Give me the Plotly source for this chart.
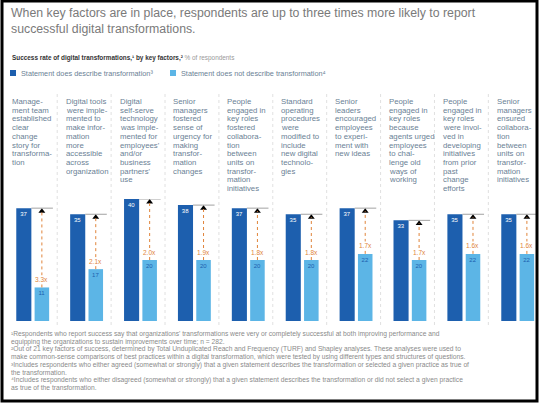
import plotly.graph_objects as go

# ---------------- data ----------------
factors = [
    "Manage-<br>ment team<br>established<br>clear<br>change<br>story for<br>transforma-<br>tion",
    "Digital tools<br>were imple-<br>mented to<br>make infor-<br>mation<br>more<br>accessible<br>across<br>organization",
    "Digital<br>self-serve<br>technology<br>was imple-<br>mented for<br>employees'<br>and/or<br>business<br>partners'<br>use",
    "Senior<br>managers<br>fostered<br>sense of<br>urgency for<br>making<br>transfor-<br>mation<br>changes",
    "People<br>engaged in<br>key roles<br>fostered<br>collabora-<br>tion<br>between<br>units on<br>transfor-<br>mation<br>initiatives",
    "Standard<br>operating<br>procedures<br>were<br>modified to<br>include<br>new digital<br>technolo-<br>gies",
    "Senior<br>leaders<br>encouraged<br>employees<br>to experi-<br>ment with<br>new ideas",
    "People<br>engaged in<br>key roles<br>because<br>agents urged<br>employees<br>to chal-<br>lenge old<br>ways of<br>working",
    "People<br>engaged in<br>key roles<br>were invol-<br>ved in<br>developing<br>initiatives<br>from prior<br>past<br>change<br>efforts",
    "Senior<br>managers<br>ensured<br>collabora-<br>tion<br>between<br>units on<br>transfor-<br>mation<br>initiatives",
]
describes = [37, 35, 40, 38, 37, 35, 37, 33, 35, 35]
not_describes = [11, 17, 20, 20, 20, 20, 22, 20, 22, 22]
multipliers = ["3.3x", "2.1x", "2.0x", "1.9x", "1.8x", "1.8x", "1.7x", "1.7x", "1.6x", "1.6x"]

title_text = ("When key factors are in place, respondents are up to three times more likely to report<br>"
              "successful digital transformations.")
subtitle_bold = "Success rate of digital transformations,¹ by key factors,²"
subtitle_rest = " % of respondents"
legend_labels = ["Statement does describe transformation³", "Statement does not describe transformation⁴"]
footnotes = [
    "¹Respondents who report success say that organizations' transformations were very or completely successful at both improving performance and",
    "equipping the organizations to sustain improvements over time; n = 282.",
    "²Out of 21 key factors of success, determined by Total Unduplicated Reach and Frequency (TURF) and Shapley analyses. These analyses were used to",
    "make common-sense comparisons of best practices within a digital transformation, which were tested by using different types and structures of questions.",
    "³Includes respondents who either agreed (somewhat or strongly) that a given statement describes the transformation or selected a given practice as true of",
    "the transformation.",
    "⁴Includes respondents who either disagreed (somewhat or strongly) that a given statement describes the transformation or did not select a given practice",
    "as true of the transformation.",
]

# ---------------- style ----------------
W, H = 541, 407
DARK = "#1d5fae"
LIGHT = "#5cb5e6"
ACCENT = "#e0843a"
FONT = "Liberation Sans, Arial, sans-serif"
TXT_GRAY = "#7a7a7a"
COL_TXT = "#6b7f95"


def py(pix):
    return 1 - pix / H


def px(pix):
    return pix / W


x = list(range(len(factors)))
DW, DOFF = 0.28, -0.31
LW, LOFF = 0.27, 0.03
ax_off = LOFF + LW / 2

fig = go.Figure()
fig.add_trace(go.Bar(
    x=x, y=describes, width=DW, offset=DOFF, marker=dict(color=DARK, line_width=0),
    text=[str(v) for v in describes], textposition="inside", insidetextanchor="end",
    textangle=0, textfont=dict(color="white", size=6, family=FONT),
    showlegend=False, hoverinfo="skip"))
fig.add_trace(go.Bar(
    x=x, y=not_describes, width=LW, offset=LOFF, marker=dict(color=LIGHT, line_width=0),
    text=[str(v) for v in not_describes], textposition="inside", insidetextanchor="end",
    textangle=0, textfont=dict(color=DARK, size=6, family=FONT),
    showlegend=False, hoverinfo="skip"))

# arrowheads
fig.add_trace(go.Scatter(
    x=[i + ax_off for i in x], y=[d - 1.0 for d in describes], mode="markers",
    marker=dict(symbol="triangle-up", size=6, color="black"),
    showlegend=False, hoverinfo="skip", cliponaxis=False))

shapes = []
annotations = []
LINE_H = 8.7
for i in x:
    # horizontal reference line at top of dark bar
    shapes.append(dict(type="line", xref="x", yref="y",
                       x0=i + DOFF + DW, x1=i + LOFF + LW + 0.07,
                       y0=describes[i], y1=describes[i],
                       line=dict(color="#8a8a8a", width=0.8)))
    # dotted vertical arrow shaft
    shapes.append(dict(type="line", xref="x", yref="y",
                       x0=i + ax_off, x1=i + ax_off,
                       y0=not_describes[i], y1=describes[i] - 1.0,
                       line=dict(color=ACCENT, width=1, dash="dot")))
    # multiplier label
    annotations.append(dict(xref="x", yref="y", x=i + ax_off, y=not_describes[i] + 2.6,
                            text=multipliers[i], showarrow=False,
                            font=dict(size=6.5, color=ACCENT, family=FONT),
                            bgcolor="white", borderpad=0))
    # column text, one annotation per line for tight leading
    for j, line in enumerate(factors[i].split("<br>")):
        annotations.append(dict(xref="x", yref="paper", x=i - 0.43, y=py(101.5 + LINE_H * j),
                                xanchor="left", yanchor="middle", align="left",
                                text=line, showarrow=False,
                                font=dict(size=7.8, color=COL_TXT, family=FONT)))
    # separators
    if i < len(x) - 1:
        shapes.append(dict(type="line", xref="x", yref="paper",
                           x0=i + 0.45, x1=i + 0.45, y0=py(325), y1=py(92),
                           line=dict(color="#d8d8d8", width=0.8, dash="dot")))

# title
annotations.append(dict(xref="paper", yref="paper", x=px(9), y=py(4), xanchor="left", yanchor="top",
                        align="left", text=title_text, showarrow=False,
                        font=dict(size=12.3, color=TXT_GRAY, family=FONT)))
# subtitle
annotations.append(dict(xref="paper", yref="paper", x=px(10), y=py(58), xanchor="left", yanchor="middle",
                        align="left", text="<b>" + subtitle_bold + "</b>" +
                        "<span style='color:#999999'>" + subtitle_rest + "</span>",
                        showarrow=False, font=dict(size=6.4, color="#333333", family=FONT)))
# legend
leg_x = [10, 170]
for k, (lab, col) in enumerate(zip(legend_labels, [DARK, LIGHT])):
    shapes.append(dict(type="rect", xref="paper", yref="paper",
                       x0=px(leg_x[k]), x1=px(leg_x[k] + 6), y0=py(76), y1=py(70),
                       fillcolor=col, line_width=0))
    annotations.append(dict(xref="paper", yref="paper", x=px(leg_x[k] + 9), y=py(73),
                            xanchor="left", yanchor="middle", text=lab, showarrow=False,
                            font=dict(size=7.3, color=COL_TXT, family=FONT)))
# footnotes
fn_y = [334, 341.7, 349.4, 357.1, 364.8, 372.5, 380.2, 387.9]
for t, yy in zip(footnotes, fn_y):
    annotations.append(dict(xref="paper", yref="paper", x=px(10), y=py(yy), xanchor="left",
                            yanchor="middle", text=t, showarrow=False, borderpad=0,
                            font=dict(size=6.7, color="#8a8a8a", family=FONT)))

# frame
shapes.append(dict(type="rect", xref="paper", yref="paper", x0=px(2), x1=px(537), y0=py(401), y1=py(1),
                   line=dict(color="black", width=3), fillcolor="rgba(0,0,0,0)"))

fig.update_layout(
    width=W, height=H, margin=dict(l=0, r=0, t=0, b=0),
    paper_bgcolor="white", plot_bgcolor="white",
    barmode="overlay",
    xaxis=dict(range=[-0.612, 9.427], domain=[0, 1], visible=False, fixedrange=True),
    yaxis=dict(range=[0, 40], domain=[(H - 321) / H, (H - 199) / H], visible=False, fixedrange=True),
    shapes=shapes, annotations=annotations, uniformtext=dict(mode=False),
)

fig.write_html("out.html", config={"displayModeBar": False},
               post_script="document.body.style.margin='0px';")
